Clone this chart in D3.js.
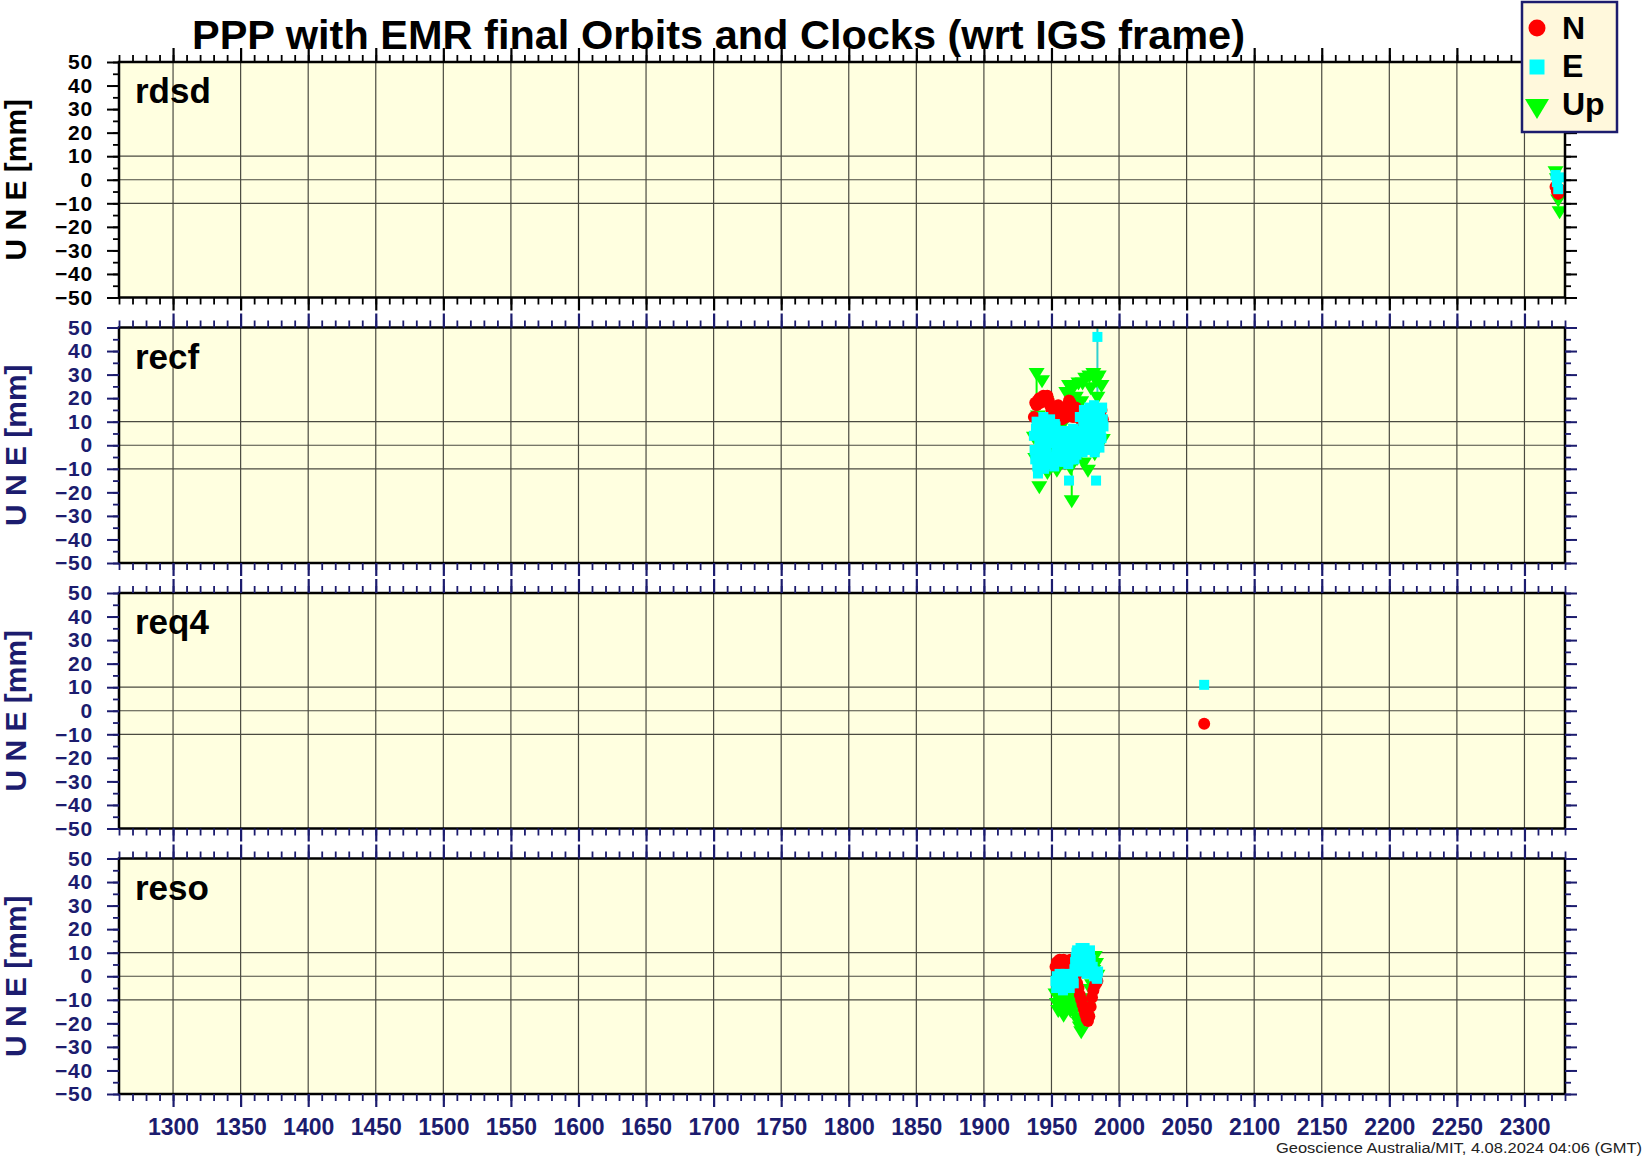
<!DOCTYPE html>
<meta charset="utf-8">
<script src="https://d3js.org/d3.v7.min.js"></script>
<style>
  body { margin: 0; background: #fff; }
  text { font-family: "Liberation Sans", Arial, Helvetica, sans-serif; }
</style>
<div id="chart"></div>
<script>
    // ---- data (GPS week, residuals in mm) ----
    var stations = ["rdsd", "recf", "req4", "reso"];
    var xTickValues = d3.range(1300, 2301, 50);
    var yTickValues = [50, 40, 30, 20, 10, 0, -10, -20, -30, -40, -50];
    var legendLabels = ["N", "E", "Up"];

    var rdsdWeeks = [2323, 2324, 2325, 2326];
    var rdsdN = [-3, -5, -6, -4];
    var rdsdE = [2, -1, -4, 1];
    var rdsdU = [3, 0, -9, -14];

    var recfWeeks = [1937, 1938, 1939, 1940, 1941, 1942, 1943, 1944, 1945, 1946,
        1947, 1948, 1949, 1950, 1951, 1952, 1953, 1954, 1955, 1956,
        1957, 1958, 1959, 1960, 1961, 1962, 1963, 1964, 1965, 1966,
        1967, 1968, 1969, 1970, 1971, 1972, 1973, 1974, 1975, 1976,
        1977, 1978, 1979, 1980, 1981, 1982, 1983, 1984, 1985, 1986,
        1987, 1988];
    var recfWeeksB = [1937.5, 1938.5, 1939.5, 1940.5, 1941.5, 1942.5, 1943.5, 1944.5, 1945.5, 1946.5,
        1947.5, 1948.5, 1949.5, 1950.5, 1951.5, 1952.5, 1953.5, 1954.5, 1955.5, 1956.5,
        1957.5, 1958.5, 1959.5, 1960.5, 1961.5, 1962.5, 1963.5, 1964.5, 1965.5, 1966.5,
        1967.5, 1968.5, 1969.5, 1970.5, 1971.5, 1972.5, 1973.5, 1974.5, 1975.5, 1976.5,
        1977.5, 1978.5, 1979.5, 1980.5, 1981.5, 1982.5, 1983.5, 1984.5, 1985.5, 1986.5,
        1987.5, 1988.5];
    var recfN = [12, 18, 17, 19, 20, 18, 20, 21, 19, 20,
        21, 19, 17, 15, 13, 16, 12, 14, 17, 15,
        13, 11, 14, 16, 12, 17, 19, 18, 14, 12,
        14, 16, 12, 13, 7, 8, 6, 9, 7, 10,
        8, 6, 9, 7, 10, 8, 9, 11, 10, 13,
        15, 11];
    var recfE = [4, -6, 10, -12, 2, 8, -7, 12, -3, 6,
        -8, 1, 11, -5, 4, -9, 8, -2, 5, -6,
        3, -4, 6, -7, 2, -5, -15, 4, -3, 7,
        -6, 3, 4, -2, 12, 5, -3, 15, 2, 10,
        -2, 16, 6, 0, 13, -3, -15, 46, 9, 14,
        3, 11];
    var recfEB = [-2, 7, -9, 5, -4, 0, 9, -10, 3, -1,
        10, -6, 6, 1, -8, 9, -4, 3, -1, 1,
        -7, 4, 0, 6, -3, -8, 1, -6, 5, -1,
        4, -4, 1, 6, 2, -1, 9, 4, 13, 1,
        8, 11, -1, 4, 17, 7, 1, 12, -1, 5,
        16, 8];
    var recfU = [3, -6, 30, 12, -18, -10, 27, 5, -8, 18,
        -12, 2, -6, 10, -9, 14, -4, -11, 6, -7,
        15, -3, 9, -8, 22, -5, 25, -10, -24, 24,
        4, 20, -6, 26, -3, 18, 26, -8, 28, 12,
        -11, 29, 24, 5, 30, -4, 27, 20, 29, 8,
        25, 2];
    // vertical error lines: [week, from, to]
    var recfBarsE = [[1984, 10, 82]];
    var recfBarsU = [[1939, 16, 30], [1965, -24, -9]];

    var req4Weeks = [2063];
    var req4N = [-5.5];
    var req4E = [11];

    var resoWeeks = [1953, 1954, 1955, 1956, 1957, 1958, 1959, 1960, 1961, 1962,
        1963, 1964, 1965, 1966, 1967, 1968, 1969, 1970, 1971, 1972,
        1973, 1974, 1975, 1976, 1977, 1978, 1979, 1980, 1981, 1982,
        1983, 1984];
    var resoWeeksB = [1953.5, 1954.5, 1955.5, 1956.5, 1957.5, 1958.5, 1959.5, 1960.5, 1961.5, 1962.5,
        1963.5, 1964.5, 1965.5, 1966.5, 1967.5, 1968.5, 1969.5, 1970.5, 1971.5, 1972.5,
        1973.5, 1974.5, 1975.5, 1976.5, 1977.5, 1978.5, 1979.5, 1980.5, 1981.5, 1982.5,
        1983.5, 1984.5];
    var resoN = [4, 6, 5, 7, 6, 5, 7, 6, 4, 5,
        6, 7, 5, 4, 2, 0, -3, -5, -8, -10,
        -12, -14, -16, -18, -19, -17, -13, -9, -6, -4,
        -3, -2];
    var resoE = [-2, 0, -3, 1, -1, -4, 0, -2, -5, -1,
        0, -3, -2, 1, 3, 8, 11, 10, 6, 2,
        11, 9, 5, 1, 10, 9, 7, 3, 2, 1,
        0, -1];
    var resoEB = [-5, -1, -4, -2, 0, -6, -3, 1, -4, -2,
        -5, 0, -1, -3, 6, 10, 4, 8, 12, 9,
        7, 12, 3, 8, 6, 11, 2, 4, 0, 1,
        -1, 2];
    var resoU = [-8, -12, -15, -10, -6, -14, -17, -9, -12, -7,
        -11, -15, -8, -6, -10, -14, -18, -20, -22, -24,
        -20, -16, -12, -18, -14, -10, -6, -4, 2, 8,
        5, 0];

    // each component: list of [weeks, values] sets
    var panels = [
        { name: "rdsd", N: [[rdsdWeeks, rdsdN]], E: [[rdsdWeeks, rdsdE]], U: [[rdsdWeeks, rdsdU]], barsE: [], barsU: [] },
        { name: "recf", N: [[recfWeeks, recfN]], E: [[recfWeeks, recfE], [recfWeeksB, recfEB]], U: [[recfWeeks, recfU]], barsE: recfBarsE, barsU: recfBarsU },
        { name: "req4", N: [[req4Weeks, req4N]], E: [[req4Weeks, req4E]], U: [], barsE: [], barsU: [] },
        { name: "reso", N: [[resoWeeks, resoN]], E: [[resoWeeks, resoE], [resoWeeksB, resoEB]], U: [[resoWeeks, resoU]], barsE: [], barsU: [] }
    ];

    // ---- layout ----
    var W = 1644, H = 1158;
    var plotLeft = 119, plotRight = 1565;
    var panelTop = 62, panelStep = 265.5, panelH = 235.5;
    var navy = "#1c1c6e";
    var red = "#ff0000", cyan = "#00ffff", green = "#00ff00";

    var svg = d3.select("#chart")
        .append("svg")
        .attr("width", W)
        .attr("height", H);

    var x = d3.scaleLinear()
        .domain([1260, 2330])
        .range([plotLeft, plotRight]);

    var y = d3.scaleLinear()
        .domain([-50, 50])
        .range([panelH, 0]);

    var triPath = "M-8,-6.5L8,-6.5L0,6.5Z";

    function pts(sets) {
        var out = [];
        sets.forEach(function (s) {
            s[0].forEach(function (w, k) { out.push({ w: w, v: s[1][k] }); });
        });
        return out;
    }

    panels.forEach(function (p, i) {
        var top = panelTop + i * panelStep;
        var ink = i === 0 ? "#000" : navy;
        var g = svg.append("g").attr("transform", "translate(0," + top + ")");

        // background
        g.append("rect")
            .attr("x", plotLeft).attr("y", 0)
            .attr("width", plotRight - plotLeft).attr("height", panelH)
            .attr("fill", "#ffffe0");

        // grid lines
        g.append("g").selectAll("line")
            .data(xTickValues)
            .enter().append("line")
            .attr("x1", function (d) { return x(d); })
            .attr("x2", function (d) { return x(d); })
            .attr("y1", 0).attr("y2", panelH)
            .attr("stroke", "#4a4a40").attr("stroke-width", 1.2);
        g.append("g").selectAll("line")
            .data([10, 0, -10])
            .enter().append("line")
            .attr("x1", plotLeft).attr("x2", plotRight)
            .attr("y1", function (d) { return y(d); })
            .attr("y2", function (d) { return y(d); })
            .attr("stroke", "#4a4a40").attr("stroke-width", 1.2);

        // clip
        svg.append("clipPath").attr("id", "clip" + i)
            .append("rect")
            .attr("x", plotLeft).attr("y", 0)
            .attr("width", plotRight - plotLeft).attr("height", panelH);
        var marks = g.append("g").attr("clip-path", "url(#clip" + i + ")");

        // error lines
        function bars(list, color) {
            marks.append("g").selectAll("line")
                .data(list)
                .enter().append("line")
                .attr("x1", function (d) { return x(d[0]); })
                .attr("x2", function (d) { return x(d[0]); })
                .attr("y1", function (d) { return y(d[1]); })
                .attr("y2", function (d) { return y(d[2]); })
                .attr("stroke", color).attr("stroke-width", 2);
        }
        bars(p.barsU, green);
        bars(p.barsE, "#30d0d0");

        // Up: inverted triangles
        marks.append("g").selectAll("path")
            .data(pts(p.U))
            .enter().append("path")
            .attr("d", triPath)
            .attr("transform", function (d) { return "translate(" + x(d.w) + "," + y(d.v) + ")"; })
            .attr("fill", green);

        // N: circles
        marks.append("g").selectAll("circle")
            .data(pts(p.N))
            .enter().append("circle")
            .attr("cx", function (d) { return x(d.w); })
            .attr("cy", function (d) { return y(d.v); })
            .attr("r", 6)
            .attr("fill", red);

        // E: squares
        marks.append("g").selectAll("rect")
            .data(pts(p.E))
            .enter().append("rect")
            .attr("x", function (d) { return x(d.w) - 5; })
            .attr("y", function (d) { return y(d.v) - 5; })
            .attr("width", 10).attr("height", 10)
            .attr("fill", cyan);

        // frame
        g.append("rect")
            .attr("x", plotLeft).attr("y", 0)
            .attr("width", plotRight - plotLeft).attr("height", panelH)
            .attr("fill", "none").attr("stroke", "#000").attr("stroke-width", 2.5);

        // axes
        function styleAxis(sel, w) {
            sel.select(".domain").remove();
            sel.selectAll("line").attr("stroke", ink).attr("stroke-width", w);
        }
        var minorX = d3.range(1260, 2331, 10);
        g.append("g")
            .call(d3.axisTop(x).tickValues(minorX).tickSize(7).tickFormat(""))
            .call(styleAxis, 1.8);
        g.append("g")
            .call(d3.axisTop(x).tickValues(xTickValues).tickSize(14).tickFormat(""))
            .call(styleAxis, 2.2);
        g.append("g").attr("transform", "translate(0," + panelH + ")")
            .call(d3.axisBottom(x).tickValues(minorX).tickSize(7).tickFormat(""))
            .call(styleAxis, 1.8);
        var bx = g.append("g").attr("transform", "translate(0," + panelH + ")")
            .call(d3.axisBottom(x).tickValues(xTickValues).tickSize(13).tickPadding(12)
                .tickFormat(i === panels.length - 1 ? d3.format("d") : ""))
            .call(styleAxis, 2.2);
        bx.selectAll("text")
            .attr("fill", navy)
            .style("font-size", "23px").style("font-weight", "bold");

        var minorY = d3.range(-50, 51, 5);
        g.append("g").attr("transform", "translate(" + plotLeft + ",0)")
            .call(d3.axisLeft(y).tickValues(minorY).tickSize(6).tickFormat(""))
            .call(styleAxis, 1.8);
        var ly = g.append("g").attr("transform", "translate(" + plotLeft + ",0)")
            .call(d3.axisLeft(y).tickValues(yTickValues).tickSize(12).tickPadding(14)
                .tickFormat(function (d) { return d < 0 ? "\u2212" + Math.abs(d) : d; }))
            .call(styleAxis, 2);
        ly.selectAll("text")
            .attr("fill", ink)
            .style("font-size", "21px").style("font-weight", "bold")
            .style("letter-spacing", "0.8px");
        g.append("g").attr("transform", "translate(" + plotRight + ",0)")
            .call(d3.axisRight(y).tickValues(minorY).tickSize(6).tickFormat(""))
            .call(styleAxis, 1.8);
        g.append("g").attr("transform", "translate(" + plotRight + ",0)")
            .call(d3.axisRight(y).tickValues(yTickValues).tickSize(12).tickFormat(""))
            .call(styleAxis, 2);

        // y label
        g.append("text")
            .attr("transform", "translate(26," + (panelH / 2) + ") rotate(-90)")
            .attr("text-anchor", "middle")
            .attr("fill", ink)
            .style("font-size", "30px").style("font-weight", "bold")
            .text("U N E [mm]");

        // station name
        g.append("text")
            .attr("x", 135).attr("y", 41)
            .attr("fill", "#000")
            .style("font-size", "35px").style("font-weight", "bold")
            .text(p.name);
    });

    // title
    svg.append("text")
        .attr("x", 192).attr("y", 49)
        .attr("textLength", 1053).attr("lengthAdjust", "spacingAndGlyphs")
        .style("font-size", "41px").style("font-weight", "bold")
        .text("PPP with EMR final Orbits and Clocks (wrt IGS frame)");

    // legend
    var leg = svg.append("g").attr("transform", "translate(1522,2)");
    leg.append("rect")
        .attr("width", 95).attr("height", 130)
        .attr("fill", "#fff8dc").attr("stroke", navy).attr("stroke-width", 2.5);
    leg.append("circle").attr("cx", 15).attr("cy", 26).attr("r", 8.5).attr("fill", red);
    leg.append("rect").attr("x", 7.5).attr("y", 57.5).attr("width", 15).attr("height", 15).attr("fill", cyan);
    leg.append("path").attr("d", "M3,97L27,97L15,117Z").attr("fill", green);
    leg.selectAll("text")
        .data(legendLabels)
        .enter().append("text")
        .attr("x", 40)
        .attr("y", function (d, k) { return 37 + k * 38; })
        .style("font-size", "32px").style("font-weight", "bold")
        .text(function (d) { return d; });

    // footer
    svg.append("text")
        .attr("x", 1642).attr("y", 1153)
        .attr("text-anchor", "end")
        .attr("textLength", 366).attr("lengthAdjust", "spacingAndGlyphs")
        .attr("fill", "#222")
        .style("font-size", "15.5px")
        .text("Geoscience Australia/MIT, 4.08.2024 04:06 (GMT)");
</script>
